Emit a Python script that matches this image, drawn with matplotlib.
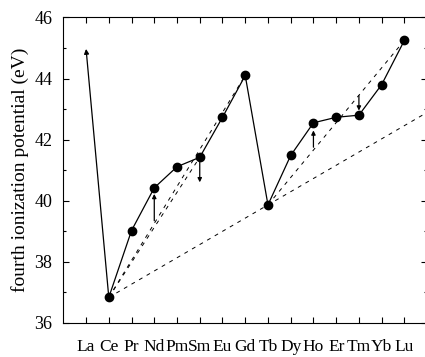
import matplotlib
matplotlib.use("Agg")
import matplotlib.pyplot as plt
from matplotlib.ticker import MultipleLocator

plt.rcParams['font.family'] = ['Liberation Serif', 'DejaVu Serif']

# elements La..Lu
elements = ['La', 'Ce', 'Pr', 'Nd', 'Pm', 'Sm', 'Eu', 'Gd', 'Tb', 'Dy', 'Ho', 'Er', 'Tm', 'Yb', 'Lu']
# fourth ionization potential (eV), Ce..Lu (La is off the scale)
ip4 = [36.83, 39.02, 40.42, 41.11, 41.42, 42.73, 44.10, 39.86, 41.48, 42.55, 42.73, 42.80, 43.80, 45.25]
la_arrow_top = 44.97

# reference straight lines (index pairs)
ref_lines = [(1, 5), (1, 7), (8, 14)]
long_line = (1, 8)          # Ce -> Tb, extended to the right edge

# small deviation arrows: (index, start, end)
dev_arrows = [(3, 39.34, 40.22), (5, 41.42, 40.60), (10, 41.75, 42.30), (12, 43.44, 42.95)]

x = list(range(1, len(elements)))

fig = plt.figure(figsize=(4.25, 3.57), dpi=100)
ax = fig.add_axes([0.149, 0.096, 0.856, 0.855])

# dashed reference lines
for i, j in ref_lines:
    ax.plot([i, j], [ip4[i - 1], ip4[j - 1]], color='black', lw=0.7, ls=(0, (4, 5)))
i, j = long_line
slope = (ip4[j - 1] - ip4[i - 1]) / (j - i)
ax.plot([i, 15], [ip4[i - 1], ip4[i - 1] + slope * (15 - i)], color='black', lw=0.7, ls=(0, (4, 5)))

# data
ax.plot(x, ip4, color='black', lw=0.9, marker='o', ms=6, zorder=3)

# La off-scale arrow from Ce
ax.annotate('', xy=(0, la_arrow_top), xytext=(1, ip4[0]),
            arrowprops=dict(arrowstyle='-|>', color='black', lw=0.9,
                            mutation_scale=7, shrinkA=0, shrinkB=0))

for k, y0, y1 in dev_arrows:
    ax.annotate('', xy=(k, y1), xytext=(k, y0),
                arrowprops=dict(arrowstyle='-|>', color='black', lw=0.9,
                                mutation_scale=6, shrinkA=0, shrinkB=0))

ax.set_xlim(-1, 15)
ax.set_ylim(36, 46)
ax.set_xticks(range(len(elements)))
ax.set_xticklabels(elements, fontsize=12.5)
ax.yaxis.set_major_locator(MultipleLocator(2))
ax.yaxis.set_minor_locator(MultipleLocator(1))
ax.tick_params(axis='both', which='both', direction='in', top=True, right=True, width=0.8)
ax.tick_params(axis='both', which='major', length=4)
ax.tick_params(axis='y', which='minor', length=2.5)
ax.tick_params(axis='x', pad=12)
ax.tick_params(axis='y', pad=8, labelsize=13)
for s in ax.spines.values():
    s.set_linewidth(0.8)

ax.set_ylabel('fourth ionization potential (eV)', fontsize=14, labelpad=4)

fig.savefig('out.png', dpi=100)
